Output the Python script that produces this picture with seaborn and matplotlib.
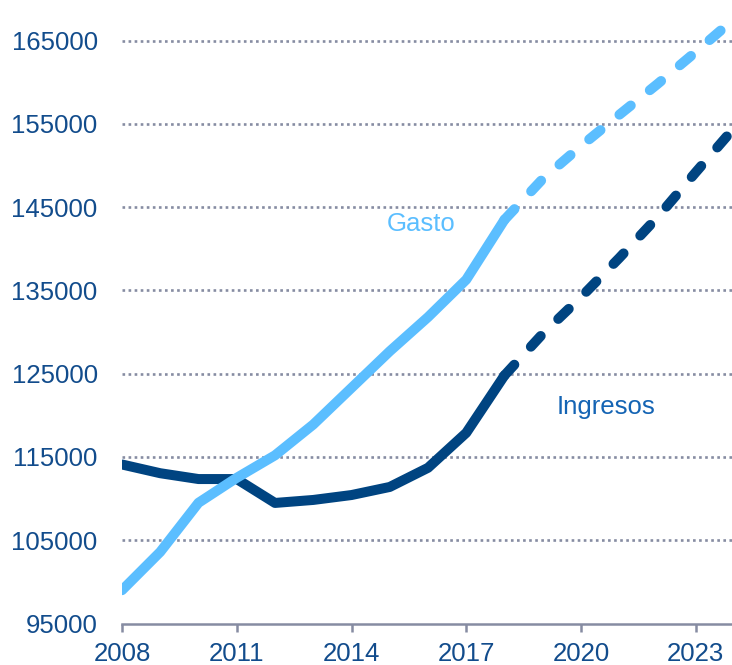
import matplotlib
matplotlib.use("Agg")
import matplotlib.pyplot as plt
import seaborn as sns
import pandas as pd

# ---- data ----
years_hist = [2008, 2009, 2010, 2011, 2012, 2013, 2014, 2015, 2016, 2017, 2018]
gasto_hist = [99000, 103600, 109500, 112500, 115200, 118900, 123300, 127700, 131800, 136300, 143500]
ingresos_hist = [114100, 113050, 112350, 112350, 109480, 109840, 110430, 111400, 113700, 117900, 124800]

years_proj = [2018, 2019, 2020, 2021, 2022, 2023, 2024]
gasto_proj = [143500, 148400, 152350, 156100, 159800, 163650, 167600]
ingresos_proj = [124800, 129800, 134200, 138900, 143800, 149200, 154500]

y_ticks = [95000, 105000, 115000, 125000, 135000, 145000, 155000, 165000]
x_ticks = [2008, 2011, 2014, 2017, 2020, 2023]

label_gasto = "Gasto"
label_ingresos = "Ingresos"

# ---- styling ----
sns.set_theme(style="white")
plt.rcParams["font.family"] = ["Liberation Sans", "DejaVu Sans"]

C_GASTO = "#5BBEFF"
C_ING = "#004481"
C_ING_TXT = "#1464B4"
C_TICK = "#124C8C"
C_GRID = "#868CA2"

fig = plt.figure(figsize=(7.32, 6.65), dpi=100)
ax = fig.add_axes([122 / 732, (665 - 623.5) / 665, 1 - 122 / 732, 623.5 / 665])

df_hist = pd.DataFrame({"year": years_hist, "gasto": gasto_hist, "ingresos": ingresos_hist})
df_proj = pd.DataFrame({"year": years_proj, "gasto": gasto_proj, "ingresos": ingresos_proj})

lw = 7.2
dash = (1.45, 2.45)

sns.lineplot(data=df_hist, x="year", y="ingresos", ax=ax, color=C_ING, lw=lw,
             solid_capstyle="round", solid_joinstyle="round", zorder=3)
sns.lineplot(data=df_proj, x="year", y="ingresos", ax=ax, color=C_ING, lw=lw,
             dashes=dash, dash_capstyle="round", zorder=3)
sns.lineplot(data=df_hist, x="year", y="gasto", ax=ax, color=C_GASTO, lw=lw,
             solid_capstyle="round", solid_joinstyle="round", zorder=4)
sns.lineplot(data=df_proj, x="year", y="gasto", ax=ax, color=C_GASTO, lw=lw,
             dashes=dash, dash_capstyle="round", zorder=4)

ax.set_xlim(2008, 2008 + (732 - 122) / 38.25)
ax.set_ylim(95000, 165000 + 40.7 / 83.26 * 10000)

ax.set_xticks(x_ticks)
ax.set_xticklabels([str(x) for x in x_ticks])
ax.set_yticks(y_ticks)
ax.set_yticklabels([str(y) for y in y_ticks])

for y in y_ticks[1:]:
    ax.axhline(y, color=C_GRID, lw=1.9, linestyle=(0, (1, 1.3)), zorder=1)

for s in ["top", "right", "left"]:
    ax.spines[s].set_visible(False)
ax.spines["bottom"].set_color(C_GRID)
ax.spines["bottom"].set_linewidth(1.8)

ax.tick_params(axis="x", which="both", bottom=True, length=6, width=1.8, color=C_GRID,
               labelsize=18.5, labelcolor=C_TICK, pad=7.5)
ax.tick_params(axis="y", which="both", left=False, length=0,
               labelsize=18.5, labelcolor=C_TICK, pad=17.5)

ax.set_xlabel("")
ax.set_ylabel("")

ax.text(2014.93, 142980, label_gasto, color=C_GASTO, fontsize=18.5, ha="left", va="center")
ax.text(2019.35, 121000, label_ingresos, color=C_ING_TXT, fontsize=18.5, ha="left", va="center")

ax.patch.set_alpha(0)
for lab in ax.get_xticklabels() + ax.get_yticklabels():
    lab.set_clip_on(False)

fig.savefig("out.png", dpi=100)
